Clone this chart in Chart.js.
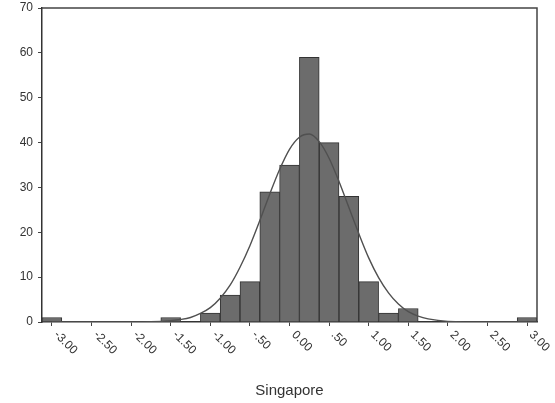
<!DOCTYPE html>
<html><head><meta charset="utf-8">
<script src="https://cdn.jsdelivr.net/npm/chart.js@4/dist/chart.umd.min.js"></script>
<style>html,body{margin:0;padding:0;background:#fff;}#wrap{width:555px;height:403px;position:relative;}canvas{display:block;}</style>
</head><body><div id="wrap"><canvas id="c" width="555" height="403"></canvas></div>
<script>
const binCenters = [-3.00,-2.75,-2.50,-2.25,-2.00,-1.75,-1.50,-1.25,-1.00,-0.75,-0.50,-0.25,0.00,0.25,0.50,0.75,1.00,1.25,1.50,1.75,2.00,2.25,2.50,2.75,3.00];
const counts     = [1,0,0,0,0,0,1,0,2,6,9,29,35,59,40,28,9,2,3,0,0,0,0,0,1];
const curveX = [-3.0,-2.5,-2.0,-1.75,-1.5,-1.375,-1.25,-1.125,-1.0,-0.875,-0.75,-0.625,-0.5,-0.375,-0.25,-0.125,0,0.125,0.25,0.375,0.5,0.625,0.75,0.875,1.0,1.125,1.25,1.375,1.5,1.625,1.75,2.0,2.5,3.0];
const curveY = [0,0,0,0.05,0.3,0.55,1.0,1.9,3.2,5.3,8.2,12.2,17.0,22.6,28.5,34.0,38.5,41.2,41.9,40.2,36.5,31.3,25.5,19.7,14.3,9.9,6.5,4.0,2.3,1.3,0.7,0.15,0,0];
const xTickValues = [-3.0,-2.5,-2.0,-1.5,-1.0,-0.5,0.0,0.5,1.0,1.5,2.0,2.5,3.0];
const xTickLabels = ["-3.00","-2.50","-2.00","-1.50","-1.00","-.50","0.00",".50","1.00","1.50","2.00","2.50","3.00"];
const yTicks = [0,10,20,30,40,50,60,70];
const xTitle = "Singapore";

const FONT = "'Liberation Sans', Arial, sans-serif";
const TXT = '#333';

const frame = {
  id: 'frame',
  afterDatasetsDraw(chart) {
    const {ctx, chartArea: a} = chart;
    ctx.save();
    ctx.strokeStyle = '#444';
    ctx.lineWidth = 1.5;
    ctx.beginPath();
    ctx.moveTo(a.left, a.top);
    ctx.lineTo(a.right, a.top);
    ctx.lineTo(a.right, a.bottom);
    ctx.stroke();
    ctx.restore();
  },
  afterDraw(chart) {
    const {ctx} = chart;
    const xs = chart.scales.x;
    ctx.save();
    ctx.fillStyle = TXT;
    ctx.font = '12px ' + FONT;
    ctx.textAlign = 'left';
    ctx.textBaseline = 'middle';
    xTickValues.forEach((v, i) => {
      const px = xs.getPixelForValue(v);
      ctx.save();
      ctx.translate(px + 4, xs.top + 11);
      ctx.rotate(Math.PI / 4);
      ctx.fillText(xTickLabels[i], 0, 0);
      ctx.restore();
    });
    ctx.restore();
  }
};

new Chart(document.getElementById('c'), {
  type: 'bar',
  data: {
    datasets: [
      {
        type: 'line',
        data: curveX.map((x, i) => ({x, y: curveY[i]})),
        borderColor: '#505050',
        borderWidth: 1.4,
        pointRadius: 0,
        cubicInterpolationMode: 'monotone',
        fill: false
      },
      {
        type: 'bar',
        data: binCenters.map((x, i) => ({x, y: counts[i]})),
        backgroundColor: '#6c6c6c',
        borderColor: '#333',
        borderWidth: 1,
        barPercentage: 1,
        categoryPercentage: 1
      }
    ]
  },
  options: {
    responsive: false,
    animation: false,
    devicePixelRatio: 1,
    layout: {padding: {top: 8, right: 18, left: 0, bottom: 0}},
    plugins: {legend: {display: false}, tooltip: {enabled: false}},
    scales: {
      x: {
        type: 'linear',
        min: -3.125, max: 3.125,
        offset: false,
        afterBuildTicks: s => { s.ticks = xTickValues.map(v => ({value: v})); },
        afterFit: s => { s.height = 81; s.paddingLeft = 0; s.paddingRight = 0; },
        ticks: {display: false},
        grid: {display: true, drawOnChartArea: false, drawTicks: true, tickLength: 4, color: '#444', offset: false},
        border: {display: true, color: '#333', width: 1.5},
        title: {display: true, text: xTitle, color: TXT, font: {family: FONT, size: 15}, padding: {top: 0, bottom: 3}}
      },
      y: {
        min: 0, max: 70,
        afterBuildTicks: s => { s.ticks = yTicks.map(v => ({value: v})); },
        afterFit: s => { s.width = 42; s.paddingTop = 0; s.paddingBottom = 0; },
        ticks: {color: TXT, font: {family: FONT, size: 12}, padding: 5},
        grid: {display: true, drawOnChartArea: false, drawTicks: true, tickLength: 4, color: '#444'},
        border: {display: true, color: '#333', width: 1.5}
      }
    }
  },
  plugins: [frame]
});
</script></body></html>
